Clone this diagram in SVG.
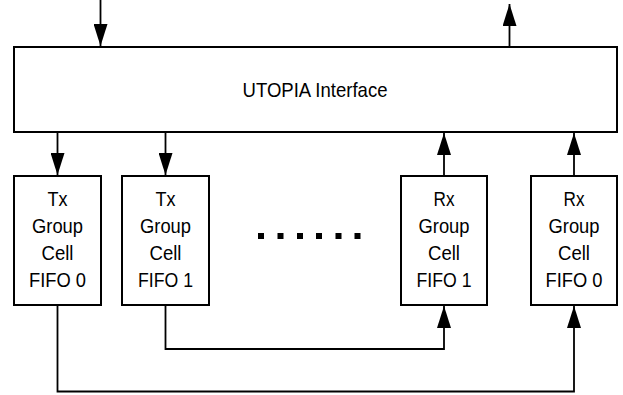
<svg xmlns="http://www.w3.org/2000/svg" width="623" height="395" viewBox="0 0 623 395">
<style>
.box{fill:#fff;stroke:#000;stroke-width:2}
.ln{fill:none;stroke:#000;stroke-width:1.8}
text{font-family:"Liberation Sans",Arial,sans-serif;fill:#000;text-anchor:middle}
.t{font-size:20px}
.big{font-size:21px}
</style>
<defs>
<marker id="ah" markerUnits="userSpaceOnUse" markerWidth="22" markerHeight="14" refX="22" refY="7" orient="auto">
<path d="M0,0 L22,7 L0,14 Z" fill="#000"/>
</marker>
</defs>
<g id="utopia">
<rect class="box" x="14" y="47" width="603" height="85"/>
<text class="big" x="315" y="97" textLength="145" lengthAdjust="spacingAndGlyphs">UTOPIA Interface</text>
</g>
<g id="tx0">
<rect class="box" x="14" y="176" width="87" height="129"/>
<text class="t" x="57.5" y="206" textLength="20" lengthAdjust="spacingAndGlyphs">Tx</text>
<text class="t" x="57.5" y="233" textLength="51" lengthAdjust="spacingAndGlyphs">Group</text>
<text class="t" x="57.5" y="260" textLength="32" lengthAdjust="spacingAndGlyphs">Cell</text>
<text class="t" x="57.5" y="287" textLength="57" lengthAdjust="spacingAndGlyphs">FIFO 0</text>
</g>
<g id="tx1">
<rect class="box" x="122" y="176" width="87" height="129"/>
<text class="t" x="165.5" y="206" textLength="20" lengthAdjust="spacingAndGlyphs">Tx</text>
<text class="t" x="165.5" y="233" textLength="51" lengthAdjust="spacingAndGlyphs">Group</text>
<text class="t" x="165.5" y="260" textLength="32" lengthAdjust="spacingAndGlyphs">Cell</text>
<text class="t" x="165.5" y="287" textLength="55" lengthAdjust="spacingAndGlyphs">FIFO 1</text>
</g>
<g id="rx1">
<rect class="box" x="401" y="176" width="86" height="129"/>
<text class="t" x="444" y="206" textLength="21" lengthAdjust="spacingAndGlyphs">Rx</text>
<text class="t" x="444" y="233" textLength="51" lengthAdjust="spacingAndGlyphs">Group</text>
<text class="t" x="444" y="260" textLength="32" lengthAdjust="spacingAndGlyphs">Cell</text>
<text class="t" x="444" y="287" textLength="55" lengthAdjust="spacingAndGlyphs">FIFO 1</text>
</g>
<g id="rx0">
<rect class="box" x="531" y="176" width="86" height="129"/>
<text class="t" x="574" y="206" textLength="21" lengthAdjust="spacingAndGlyphs">Rx</text>
<text class="t" x="574" y="233" textLength="51" lengthAdjust="spacingAndGlyphs">Group</text>
<text class="t" x="574" y="260" textLength="32" lengthAdjust="spacingAndGlyphs">Cell</text>
<text class="t" x="574" y="287" textLength="57" lengthAdjust="spacingAndGlyphs">FIFO 0</text>
</g>
<g id="ellipsis">
<rect x="258" y="233" width="6" height="6"/>
<rect x="277.5" y="233" width="6" height="6"/>
<rect x="297" y="233" width="6" height="6"/>
<rect x="316" y="233" width="6" height="6"/>
<rect x="335.5" y="233" width="6" height="6"/>
<rect x="354.5" y="233" width="6" height="6"/>
</g>
<g id="connectors">
<path class="ln" d="M100.5,0 L100.5,46" marker-end="url(#ah)"/>
<path class="ln" d="M509.5,47 L509.5,4" marker-end="url(#ah)"/>
<path class="ln" d="M57.5,132 L57.5,175" marker-end="url(#ah)"/>
<path class="ln" d="M165.5,132 L165.5,175" marker-end="url(#ah)"/>
<path class="ln" d="M444,176 L444,133" marker-end="url(#ah)"/>
<path class="ln" d="M574,176 L574,133" marker-end="url(#ah)"/>
<path class="ln" d="M165.5,305 L165.5,349 L444,349 L444,306" marker-end="url(#ah)"/>
<path class="ln" d="M57.5,305 L57.5,391.5 L574,391.5 L574,306" marker-end="url(#ah)"/>
</g>
</svg>
